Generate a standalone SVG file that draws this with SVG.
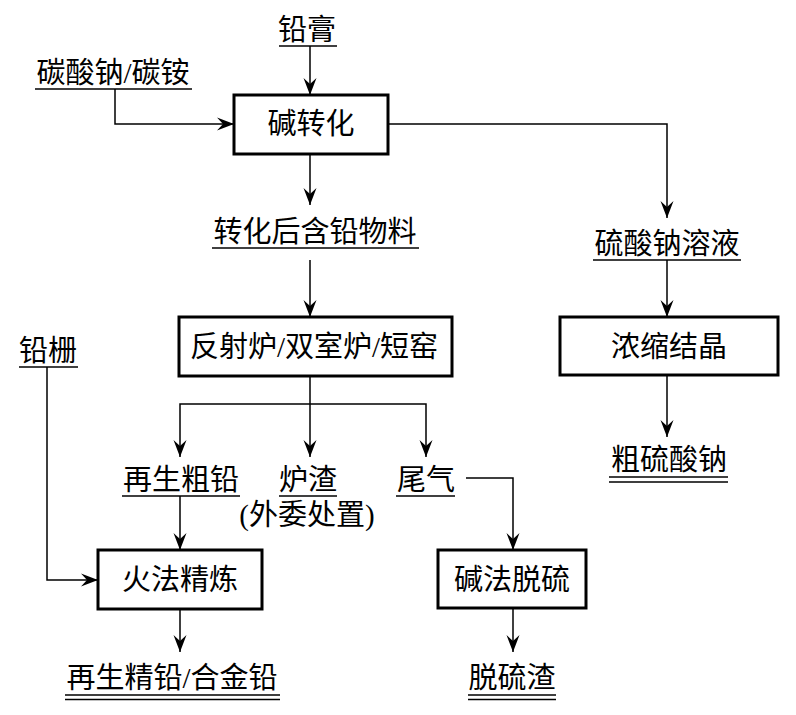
<svg xmlns="http://www.w3.org/2000/svg" width="796" height="715" viewBox="0 0 796 715">
<style>
text{font-family:"Liberation Serif","Noto Sans CJK SC",serif;font-size:29px;fill:#000;text-anchor:middle}
.box{fill:#fff;stroke:#000;stroke-width:3}
.ul{stroke:#000;stroke-width:1.5;fill:none}
.c{stroke:#000;stroke-width:1.5;fill:none;marker-end:url(#ah)}
</style>
<defs>
<marker id="ah" markerUnits="userSpaceOnUse" markerWidth="20" markerHeight="16" viewBox="-18 -8 20 16" refX="0" refY="0" orient="auto">
<path d="M0,0 L-17,-6.5 L-11,0 L-17,6.5 Z" fill="#000"/>
</marker>
</defs>
<rect width="796" height="715" fill="#fff"/>
<g id="connectors">
<path class="c" d="M310,46 V95"/>
<path class="c" d="M115,89 V124 H234"/>
<path class="c" d="M388,124 H667 V218"/>
<path class="c" d="M310,154 V205"/>
<path class="c" d="M310,260 V317"/>
<path class="c" d="M310,376 V457"/>
<path class="c" d="M310,404 H180 V457"/>
<path class="c" d="M310,404 H426 V457"/>
<path class="c" d="M180,496 V550"/>
<path class="c" d="M47,367 V580 H98"/>
<path class="c" d="M180,609 V652"/>
<path class="c" d="M466,478 H513 V550"/>
<path class="c" d="M513,608 V652"/>
<path class="c" d="M667,260 V317"/>
<path class="c" d="M667,375 V437"/>
</g>
<g id="n-qiangao"><text x="307" y="40">铅膏</text><path class="ul" d="M279,46 H337"/></g>
<g id="n-tansuanna"><text x="113" y="83">碳酸钠/碳铵</text><path class="ul" d="M35,89 H192"/></g>
<g id="n-jianzhuanhua"><rect class="box" x="234" y="95" width="154" height="59"/><text x="311" y="134">碱转化</text></g>
<g id="n-zhuanhuahou"><text x="315" y="242">转化后含铅物料</text><path class="ul" d="M212,248 H419"/></g>
<g id="n-liusuanna"><text x="667" y="254">硫酸钠溶液</text><path class="ul" d="M593,260 H741"/></g>
<g id="n-nongsuo"><rect class="box" x="560" y="317" width="218" height="58"/><text x="669" y="357">浓缩结晶</text></g>
<g id="n-culiusuanna"><text x="669" y="470">粗硫酸钠</text><path class="ul" d="M609,477 H728 M609,482 H728"/></g>
<g id="n-fanshelu"><rect class="box" x="179" y="317" width="273" height="59"/><text x="314" y="357">反射炉/双室炉/短窑</text></g>
<g id="n-qianshan"><text x="48" y="361">铅栅</text><path class="ul" d="M19,367 H78"/></g>
<g id="n-zaishengcuqian"><text x="181" y="490">再生粗铅</text><path class="ul" d="M122,496 H240"/></g>
<g id="n-luzha"><text x="308" y="490">炉渣</text><path class="ul" d="M279,496 H337"/><text x="307" y="525">(外委处置)</text></g>
<g id="n-weiqi"><text x="426" y="490">尾气</text><path class="ul" d="M396,496 H455"/></g>
<g id="n-huofa"><rect class="box" x="98" y="550" width="164" height="59"/><text x="180" y="590">火法精炼</text></g>
<g id="n-jianfa"><rect class="box" x="438" y="550" width="148" height="58"/><text x="512" y="590">碱法脱硫</text></g>
<g id="n-zaishengjingqian"><text x="172" y="688">再生精铅/合金铅</text><path class="ul" d="M65,695 H280 M65,699.5 H280"/></g>
<g id="n-tuoliuzha"><text x="512" y="688">脱硫渣</text><path class="ul" d="M468,695 H556 M468,699.5 H556"/></g>
</svg>
